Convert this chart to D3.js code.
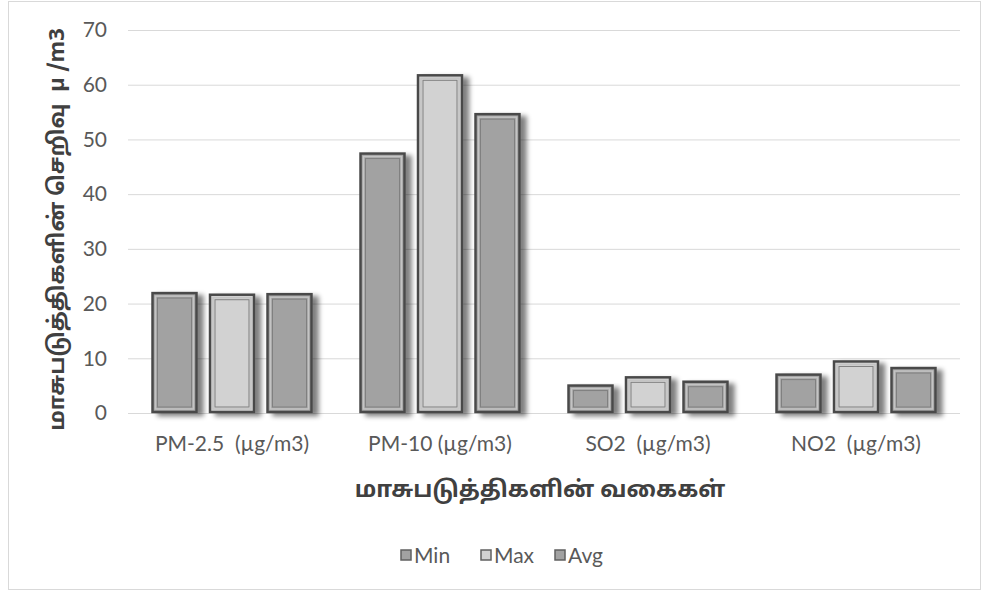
<!DOCTYPE html>
<html>
<head>
<meta charset="UTF-8">
<title>மாசுபடுத்திகளின் செறிவு</title>
<script src="https://d3js.org/d3.v7.min.js"></script>
<style>
    body { margin: 0; background: #fff; }
    text { font-family: "Lato", "Open Sans", sans-serif; white-space: pre; }
    .tamil { font-family: "Noto Sans Tamil", "Noto Sans", "Lato", sans-serif; font-weight: bold; fill: #404040; }
</style>
</head>
<body>
<svg id="chart" width="982" height="592"></svg>
<script>
    // data
    const categories = ["PM-2.5  (µg/m3)", "PM-10 (µg/m3)", "SO2  (µg/m3)", "NO2  (µg/m3)"];
    const seriesNames = ["Min", "Max", "Avg"];
    const minValues = [22.1, 47.6, 5.2, 7.2];
    const maxValues = [21.8, 61.9, 6.7, 9.6];
    const avgValues = [21.9, 54.8, 5.9, 8.4];
    const yTicks = [0, 10, 20, 30, 40, 50, 60, 70];

    const seriesValues = [minValues, maxValues, avgValues];
    const seriesFill = { Min: "#a2a2a2", Max: "#d2d2d2", Avg: "#a2a2a2" };

    let svg = d3.select("svg#chart");
    let margin = { top: 30, right: 22, bottom: 179, left: 128 };
    let width = +svg.attr("width");
    let height = +svg.attr("height");
    let chartWidth = width - margin.left - margin.right;
    let chartHeight = height - margin.top - margin.bottom;

    // outer frame
    svg.append("rect")
        .attr("x", 8.5).attr("y", 1.5)
        .attr("width", 972).attr("height", 588)
        .attr("fill", "white").attr("stroke", "#d9d9d9");

    // shadow filter
    let defs = svg.append("defs");
    let f = defs.append("filter").attr("id", "shadow")
        .attr("x", "-20%").attr("y", "-20%").attr("width", "150%").attr("height", "150%");
    f.append("feGaussianBlur").attr("in", "SourceAlpha").attr("stdDeviation", 2.5).attr("result", "blur");
    f.append("feOffset").attr("in", "blur").attr("dx", 6).attr("dy", 3).attr("result", "off");
    f.append("feComponentTransfer").attr("in", "off").attr("result", "offA")
        .append("feFuncA").attr("type", "linear").attr("slope", 0.5);
    let merge = f.append("feMerge");
    merge.append("feMergeNode").attr("in", "offA");
    merge.append("feMergeNode").attr("in", "SourceGraphic");

    let g = svg.append("g").attr("transform", `translate(${margin.left},${margin.top})`);

    const y = d3.scaleLinear().domain([0, 70]).range([chartHeight, 0]);
    const x0 = d3.scaleBand().domain(categories).range([0, chartWidth]).padding(0);
    const x1 = d3.scaleBand().domain(seriesNames)
        .range([x0.bandwidth() * 0.113, x0.bandwidth() * 0.887]).paddingInner(0.2);

    // gridlines
    g.append("g")
        .call(d3.axisLeft(y).tickValues(yTicks).tickSize(-chartWidth).tickFormat(""))
        .call(a => a.select(".domain").remove())
        .call(a => a.selectAll("line").attr("stroke", "#d9d9d9").attr("stroke-width", 1));

    // y tick labels
    g.append("g")
        .call(d3.axisLeft(y).tickValues(yTicks).tickSize(0).tickPadding(21))
        .call(a => a.select(".domain").remove())
        .call(a => a.selectAll("text").attr("fill", "#595959").style("font-size", "21px"));

    // x axis labels
    g.append("g")
        .attr("transform", `translate(0,${chartHeight})`)
        .call(d3.axisBottom(x0).tickSize(0).tickPadding(23))
        .call(a => a.select(".domain").remove())
        .call(a => a.selectAll("text").attr("fill", "#595959").style("font-size", "21px"));

    // bars
    let groups = g.selectAll("g.cat").data(categories).join("g")
        .attr("class", "cat")
        .attr("transform", d => `translate(${x0(d)},0)`);

    groups.each(function (cat, ci) {
        let bars = d3.select(this).selectAll("g.bar")
            .data(seriesNames.map((s, si) => ({ s: s, v: seriesValues[si][ci] })))
            .join("g").attr("class", "bar");

        bars.append("rect")
            .attr("x", d => x1(d.s) + 1)
            .attr("y", d => y(d.v) + 1)
            .attr("width", x1.bandwidth() - 2)
            .attr("height", d => y(0) - y(d.v) - 2)
            .attr("fill", d => seriesFill[d.s])
            .attr("stroke", "#4a4a4a")
            .attr("stroke-width", 2.5)
            .attr("filter", "url(#shadow)");

        bars.append("rect")
            .attr("x", d => x1(d.s) + 4)
            .attr("y", d => y(d.v) + 4)
            .attr("width", x1.bandwidth() - 8)
            .attr("height", d => Math.max(0, y(0) - y(d.v) - 8))
            .attr("fill", "none")
            .attr("stroke", "#c4c4c4")
            .attr("stroke-width", 1.5);

        bars.append("rect")
            .attr("x", d => x1(d.s) + 6)
            .attr("y", d => y(d.v) + 6)
            .attr("width", x1.bandwidth() - 12)
            .attr("height", d => Math.max(0, y(0) - y(d.v) - 12))
            .attr("fill", "none")
            .attr("stroke", "#808080")
            .attr("stroke-width", 1);
    });

    // axis titles
    svg.append("text")
        .attr("class", "tamil")
        .attr("transform", `translate(64,${margin.top + chartHeight / 2 + 8}) rotate(-90)`)
        .attr("text-anchor", "middle")
        .style("font-size", "22px")
        .text("மாசுபடுத்திகளின் செறிவு  µ /m3");

    svg.append("text")
        .attr("class", "tamil")
        .attr("x", 540).attr("y", 497)
        .attr("text-anchor", "middle")
        .style("font-size", "23px")
        .text("மாசுபடுத்திகளின் வகைகள்");

    // legend
    let legend = svg.append("g").attr("transform", "translate(400,556)");
    let lx = [0, 80, 154];
    seriesNames.forEach((s, i) => {
        let item = legend.append("g").attr("transform", `translate(${lx[i]},0)`);
        item.append("rect")
            .attr("x", 1).attr("y", -6)
            .attr("width", 10).attr("height", 10)
            .attr("fill", seriesFill[s])
            .attr("stroke", "#606060").attr("stroke-width", 1.5);
        item.append("text")
            .attr("x", 14).attr("y", 7)
            .attr("fill", "#595959")
            .style("font-size", "21px")
            .text(s);
    });
</script>
</body>
</html>
